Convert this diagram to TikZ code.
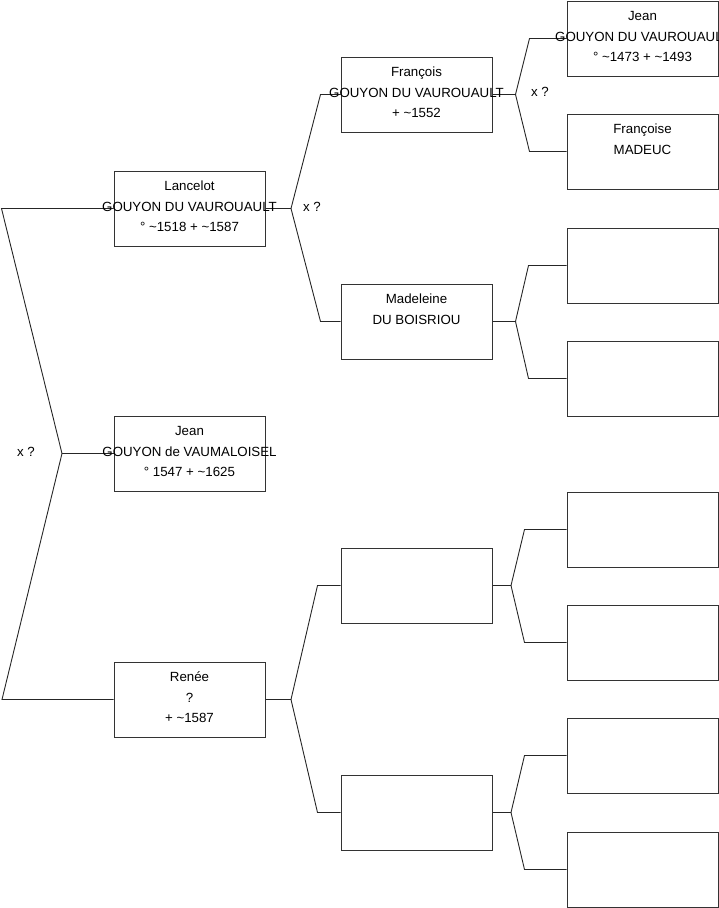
\documentclass[tikz,border=0pt]{standalone}
\usepackage{fontspec}
\setmainfont{Liberation Sans}
\newcommand{\tld}{\textasciitilde}
\begin{document}
\begin{tikzpicture}[x=1pt,y=-1pt]
\tikzset{
  box/.style={draw=black!80, line width=1pt, minimum width=151pt, minimum height=75pt, inner sep=0pt},
  txt/.style={align=center, inner sep=0pt, font=\fontsize{13.3}{20.5}\selectfont},
  link/.style={draw=black!85, line width=0.9pt},
}
\useasboundingbox (0,0) rectangle (719,908);
% boxes
\node[box] (L) at (189.5,208.5) {};
\node[box] (J) at (189.5,453.5) {};
\node[box] (R) at (189.5,699.5) {};
\node[box] (F) at (416.5,94.5) {};
\node[box] (M) at (416.5,321.5) {};
\node[box] (E1) at (416.5,585.5) {};
\node[box] (E2) at (416.5,812.5) {};
\node[box] (G1) at (642.5,38.5) {};
\node[box] (G2) at (642.5,151.5) {};
\node[box] (G3) at (642.5,265.5) {};
\node[box] (G4) at (642.5,378.5) {};
\node[box] (G5) at (642.5,529.5) {};
\node[box] (G6) at (642.5,642.5) {};
\node[box] (G7) at (642.5,755.5) {};
\node[box] (G8) at (642.5,869.5) {};
% connectors
\coordinate (r1) at (1.5,208.5);
\coordinate (rj) at (62,453.5);
\coordinate (r2) at (2,699.5);
\draw[link] (L.west) -- (r1) -- (rj) -- (r2) -- (R.west);
\draw[link] (rj) -- (J.west);
\coordinate (jL) at (291,208.5);
\draw[link] (L.east) -- (jL);
\draw[link] (F.west) -- ([xshift=-20pt]F.west) -- (jL) -- ([xshift=-20pt]M.west) -- (M.west);
\coordinate (jR) at (291,699.5);
\draw[link] (R.east) -- (jR);
\draw[link] (E1.west) -- ([xshift=-23pt]E1.west) -- (jR) -- ([xshift=-23pt]E2.west) -- (E2.west);
\coordinate (jF) at (515.5,94.5);
\draw[link] (F.east) -- (jF);
\draw[link] (G1.west) -- ([xshift=-37pt]G1.west) -- (jF) -- ([xshift=-37pt]G2.west) -- (G2.west);
\coordinate (jM) at (515.5,321.5);
\draw[link] (M.east) -- (jM);
\draw[link] (G3.west) -- ([xshift=-38pt]G3.west) -- (jM) -- ([xshift=-38pt]G4.west) -- (G4.west);
\coordinate (jE1) at (511,585.5);
\draw[link] (E1.east) -- (jE1);
\draw[link] (G5.west) -- ([xshift=-42pt]G5.west) -- (jE1) -- ([xshift=-42pt]G6.west) -- (G6.west);
\coordinate (jE2) at (511,812.5);
\draw[link] (E2.east) -- (jE2);
\draw[link] (G7.west) -- ([xshift=-42pt]G7.west) -- (jE2) -- ([xshift=-42pt]G8.west) -- (G8.west);
% texts
\node[txt] (Lt) at ([yshift=2pt]L.center) {Lancelot\\GOUYON DU VAUROUAULT\\° \tld1518 + \tld1587};
\node[txt] (Jt) at ([yshift=2pt]J.center) {Jean\\GOUYON de VAUMALOISEL\\° 1547 + \tld1625};
\node[txt] (Rt) at ([yshift=2pt]R.center) {Renée\\?\\+ \tld1587};
\node[txt] (Ft) at ([yshift=2pt]F.center) {François\\GOUYON DU VAUROUAULT\\+ \tld1552};
\node[txt] (Mt) at ([yshift=2pt]M.center) {Madeleine\\DU BOISRIOU\\~};
\node[txt] (G1t) at ([yshift=2pt]G1.center) {Jean\\GOUYON DU VAUROUAULT\\° \tld1473 + \tld1493};
\node[txt] (G2t) at ([yshift=2pt]G2.center) {Françoise\\MADEUC\\~};
\node[txt] (x1) at (26,452) {x ?};
\node[txt] (x2) at (312,207) {x ?};
\node[txt] (x3) at (540,92) {x ?};
\end{tikzpicture}
\end{document}
